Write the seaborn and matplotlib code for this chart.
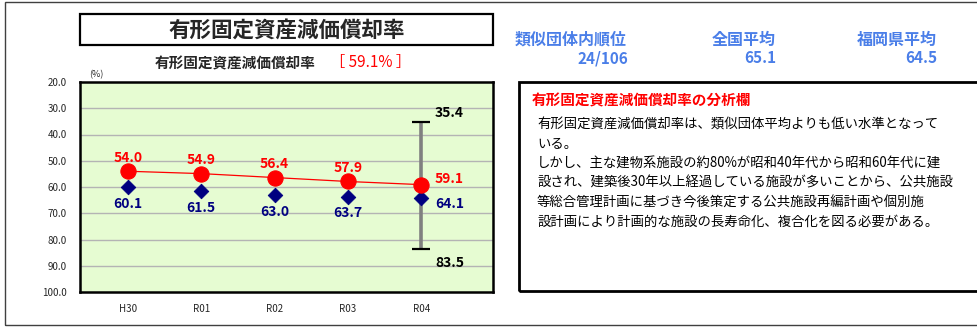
import matplotlib
matplotlib.use("Agg")
import matplotlib.pyplot as plt
from matplotlib.patches import Rectangle
import seaborn as sns
import pandas as pd

# Data
years = ["H30", "R01", "R02", "R03", "R04"]
own_rate = [54.0, 54.9, 56.4, 57.9, 59.1]
group_avg = [60.1, 61.5, 63.0, 63.7, 64.1]
range_max = 35.4
range_min = 83.5
y_ticks = [20, 30, 40, 50, 60, 70, 80, 90, 100]

title = "有形固定資産減価償却率"
current_value = "59.1%"
rank_label, rank_value = "類似団体内順位", "24/106"
nat_label, nat_value = "全国平均", "65.1"
pref_label, pref_value = "福岡県平均", "64.5"
analysis_title = "有形固定資産減価償却率の分析欄"
analysis_lines = [
    "有形固定資産減価償却率は、類似団体平均よりも低い水準となって",
    "いる。",
    "しかし、主な建物系施設の約80%が昭和40年代から昭和60年代に建",
    "設され、建築後30年以上経過している施設が多いことから、公共施設",
    "等総合管理計画に基づき今後策定する公共施設再編計画や個別施",
    "設計画により計画的な施設の長寿命化、複合化を図る必要がある。",
]

sns.set_theme(style="white")
plt.rcParams["font.family"] = ["Noto Sans CJK JP", "DejaVu Sans"]

W, H = 977, 328
fig = plt.figure(figsize=(W / 100, H / 100), dpi=100)
fig.patch.set_facecolor("white")


def fx(px):
    return px / W


def fy(py):
    return 1 - py / H


# Outer frame
fig.patches.append(Rectangle((fx(5), fy(325)), fx(1000) - fx(5), fy(2) - fy(325),
                             transform=fig.transFigure, fill=False,
                             edgecolor="#404040", lw=1.0))

# Title box
fig.patches.append(Rectangle((fx(80), fy(45)), fx(493) - fx(80), fy(14) - fy(45),
                             transform=fig.transFigure, fill=False,
                             edgecolor="black", lw=1.6))
fig.text(fx(287), fy(30), title, ha="center", va="center",
         fontsize=15.5, fontweight="bold")

# Subtitle with current value
fig.text(fx(235), fy(63), title, ha="center", va="center",
         fontsize=10.5, fontweight="bold")
fig.text(fx(371), fy(63), "［ " + current_value + " ］", ha="center", va="center",
         fontsize=11, color="#ff0000")
fig.text(fx(96), fy(75), "(%)", ha="center", va="center", fontsize=6.5)

# Chart
ax = fig.add_axes([fx(80), fy(292), fx(493) - fx(80), fy(82) - fy(292)])
ax.set_facecolor("#e6fcd2")
df = pd.DataFrame({"year": years, "pos": range(len(years)),
                   "own": own_rate, "group": group_avg})

for v in y_ticks[1:-1]:
    ax.axhline(v, color="#b4b4b4", lw=1.0, zorder=0)

# Range bar of similar municipalities in the latest year
last = len(years) - 1
ax.vlines(last, range_max, range_min, color="#808080", lw=2.6, zorder=2)
ax.hlines([range_max, range_min], last - 0.12, last + 0.12, color="black", lw=1.6, zorder=2)

sns.lineplot(data=df, x="pos", y="own", ax=ax, color="#ff0000", lw=0.9,
             marker="o", markersize=11, markeredgecolor="#ff0000", zorder=4)
sns.scatterplot(data=df, x="pos", y="group", ax=ax, marker="D", s=55,
                color="#000080", edgecolor="#000080", zorder=3)

lab_kw = dict(textcoords="offset points", fontsize=10, fontweight="bold", va="center")
for i, (o, g) in enumerate(zip(own_rate, group_avg)):
    if i < last:
        ax.annotate(f"{o:.1f}", (i, o), xytext=(0, 9.5), ha="center", color="#ff0000", **lab_kw)
        ax.annotate(f"{g:.1f}", (i, g), xytext=(0, -12), ha="center", color="#000080", **lab_kw)
    else:
        ax.annotate(f"{o:.1f}", (i, o), xytext=(10, 3.8), ha="left", color="#ff0000", **lab_kw)
        ax.annotate(f"{g:.1f}", (i, g), xytext=(10, -4.5), ha="left", color="#000080", **lab_kw)
ax.annotate(f"{range_max:.1f}", (last, range_max), xytext=(10, 6.5), ha="left",
            color="black", **lab_kw)
ax.annotate(f"{range_min:.1f}", (last, range_min), xytext=(10, -10), ha="left",
            color="black", **lab_kw)

ax.set_xlim(-0.655, 4.98)
ax.set_ylim(100, 20)
ax.set_yticks(y_ticks)
ax.set_yticklabels([f"{v:.1f}" for v in y_ticks], fontsize=7)
ax.set_xticks(range(len(years)))
ax.set_xticklabels(years, fontsize=7)
ax.tick_params(axis="y", length=0, pad=9.5)
ax.tick_params(axis="x", length=0, pad=9)
ax.set_xlabel("")
ax.set_ylabel("")
for s in ax.spines.values():
    s.set_visible(True)
    s.set_color("black")
    s.set_linewidth(1.8)

# Comparison figures
blue = "#4a7ee8"
for lab, val, x0, x1 in [(rank_label, rank_value, 515, 628),
                         (nat_label, nat_value, 712, 776),
                         (pref_label, pref_value, 857, 937)]:
    fig.text(fx(x0), fy(40), lab, ha="left", va="center", fontsize=11.5,
             fontweight="bold", style="italic", color=blue)
    fig.text(fx(x1), fy(58), val, ha="right", va="center", fontsize=11,
             fontweight="bold", style="italic", color=blue)

# Analysis box
fig.patches.append(Rectangle((fx(519), fy(291)), fx(1000) - fx(519), fy(82) - fy(291),
                             transform=fig.transFigure, fill=False,
                             edgecolor="black", lw=2.0))
fig.text(fx(532), fy(100), analysis_title, ha="left", va="center", fontsize=10.5,
         fontweight="bold", style="italic", color="#ff0000")
for k, line in enumerate(analysis_lines):
    fig.text(fx(537), fy(125 + k * 19.3), line, ha="left", va="center",
             fontsize=9.6, color="black")

fig.savefig("out.png", dpi=100)
